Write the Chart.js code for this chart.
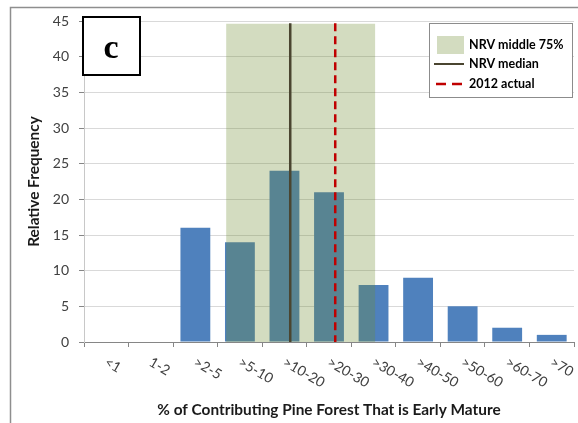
<!DOCTYPE html>
<html><head><meta charset="utf-8">
<script src="https://cdn.jsdelivr.net/npm/chart.js@4/dist/chart.umd.min.js"></script>
<style>html,body{margin:0;padding:0;background:#fff;}#wrap{width:578px;height:423px;}</style>
</head><body><div id="wrap"><canvas id="c" width="578" height="423"></canvas></div>
<script>
const categories = ['<1','1-2','>2-5','>5-10','>10-20','>20-30','>30-40','>40-50','>50-60','>60-70','>70'];
const frequencies = [0,0,16,14,24,21,8,9,5,2,1];
const bandRange = [2.69, 6.04];   // NRV middle 75% (category index units)
const bandTop = 44.6;
const medianPos = 4.13;           // NRV median
const actualPos = 5.14;           // 2012 actual
const lineTop = 44.7;
const yMax = 45, yStep = 5;
const seriesLabels = ['NRV middle 75%','NRV median','2012 actual'];
const panelLetter = 'c';
const xTitle = '% of Contributing Pine Forest That is Early Mature';
const yTitle = 'Relative Frequency';

const FONT = 'Lato, "Open Sans", sans-serif';
const BAND_COLOR = 'rgba(108,138,45,0.30)';
const MEDIAN_COLOR = '#4A4530';
const ACTUAL_COLOR = '#C00000';

const framePlugin = {
  id:'frame',
  beforeDraw(chart){
    const ctx = chart.ctx;
    ctx.save();
    ctx.fillStyle = '#fff';
    ctx.fillRect(0,0,chart.width,chart.height);
    ctx.strokeStyle = '#8E8E8E';
    ctx.lineWidth = 1.5;
    ctx.strokeRect(10.5, 7.5, 700, 600);
    ctx.restore();
  }
};

const xLabelPlugin = {
  id:'xlabels',
  afterDraw(chart){
    const ctx = chart.ctx, xs = chart.scales.x;
    ctx.save();
    ctx.font = '14px ' + FONT;
    ctx.fillStyle = '#404040';
    ctx.textAlign = 'left';
    ctx.textBaseline = 'top';
    categories.forEach((c,i)=>{
      const px = xs.getPixelForValue(i);
      ctx.save();
      ctx.translate(px + 3, xs.top + 13);
      ctx.rotate(30*Math.PI/180);
      ctx.fillText(c, 0, 0);
      ctx.restore();
    });
    ctx.restore();
  }
};

const overlayPlugin = {
  id:'overlay',
  afterDraw(chart){
    const ctx = chart.ctx, a = chart.chartArea;
    ctx.save();
    // panel letter box
    ctx.fillStyle = '#fff';
    ctx.fillRect(83, 17, 57, 58);
    ctx.strokeStyle = '#000';
    ctx.lineWidth = 2;
    ctx.strokeRect(83, 17, 57, 58);
    ctx.fillStyle = '#000';
    ctx.font = 'bold 34px "Liberation Serif", "DejaVu Serif", serif';
    ctx.textAlign = 'center';
    ctx.textBaseline = 'alphabetic';
    ctx.fillText(panelLetter, 111, 58);

    // legend
    const lx = a.right - 145, ly = a.top + 2, lw = 143, lh = 74;
    ctx.fillStyle = '#fff';
    ctx.fillRect(lx, ly, lw, lh);
    ctx.strokeStyle = '#8C8C8C';
    ctx.lineWidth = 1;
    ctx.strokeRect(lx + 0.5, ly + 0.5, lw, lh);
    const ds = chart.data.datasets;
    ctx.font = 'bold 12.5px ' + FONT;
    ctx.fillStyle = '#000';
    ctx.textAlign = 'left';
    ctx.textBaseline = 'middle';
    const tx = lx + 40;
    ctx.fillStyle = ds[1].backgroundColor;
    ctx.fillRect(lx + 8, ly + 13, 27, 18);
    ctx.fillStyle = '#000';
    ctx.fillText(ds[1].label, tx, ly + 22);
    ctx.strokeStyle = ds[2].borderColor;
    ctx.lineWidth = 2;
    ctx.beginPath(); ctx.moveTo(lx + 5, ly + 41); ctx.lineTo(lx + 35, ly + 41); ctx.stroke();
    ctx.fillText(ds[2].label, tx, ly + 41);
    ctx.strokeStyle = ds[3].borderColor;
    ctx.lineWidth = 2.5;
    ctx.setLineDash([10,6]);
    ctx.beginPath(); ctx.moveTo(lx + 7, ly + 61); ctx.lineTo(lx + 35, ly + 61); ctx.stroke();
    ctx.setLineDash([]);
    ctx.fillText(ds[3].label, tx, ly + 61);
    ctx.restore();
  }
};

new Chart(document.getElementById('c'), {
  type:'bar',
  data:{
    labels: categories,
    datasets:[
      { type:'bar', label:'Frequency', data: frequencies, backgroundColor:'#4F81BD',
        borderWidth:0, barPercentage:0.67, categoryPercentage:1, grouped:false,
        xAxisID:'x', yAxisID:'y', order:3 },
      { type:'line', label: seriesLabels[0],
        data:[{x:bandRange[0], y:bandTop},{x:bandRange[1], y:bandTop}],
        xAxisID:'xl', yAxisID:'y', fill:'origin', backgroundColor: BAND_COLOR,
        borderColor:'rgba(0,0,0,0)', borderWidth:0, pointRadius:0, order:2 },
      { type:'line', label: seriesLabels[1],
        data:[{x:medianPos, y:lineTop},{x:medianPos, y:0}],
        xAxisID:'xl', yAxisID:'y', borderColor: MEDIAN_COLOR, borderWidth:2.5,
        pointRadius:0, fill:false, order:1 },
      { type:'line', label: seriesLabels[2],
        data:[{x:actualPos, y:lineTop},{x:actualPos, y:0}],
        xAxisID:'xl', yAxisID:'y', borderColor: ACTUAL_COLOR, borderWidth:2.5,
        borderDash:[8,5], borderCapStyle:'butt', pointRadius:0, fill:false, order:0 }
    ]
  },
  options:{
    responsive:false,
    animation:false,
    layout:{ padding:{ top:21, right:4, left:0, bottom:0 } },
    plugins:{ legend:{display:false}, tooltip:{enabled:false} },
    scales:{
      x:{
        type:'category', offset:true,
        grid:{ offset:true, drawOnChartArea:false, drawTicks:true, tickLength:5, tickColor:'#868686' },
        border:{ display:true, color:'#868686' },
        ticks:{ display:false },
        title:{ display:true, text:xTitle, color:'#1a1a1a', font:{ family:FONT, size:15.4, weight:'bold' }, padding:{top:0,bottom:4} },
        afterFit(s){ s.height = 81; }
      },
      xl:{ type:'linear', display:false, offset:false, grid:{offset:false}, min:-0.5, max: categories.length - 0.5 },
      y:{
        min:0, max:yMax,
        ticks:{ stepSize:yStep, color:'#404040', font:{ family:FONT, size:14 }, padding:10 },
        grid:{ color:'#D9D9D9', tickColor:'#868686', tickLength:5 },
        border:{ display:true, color:'#C8C8C8' },
        title:{ display:true, text:yTitle, color:'#1a1a1a', font:{ family:FONT, size:15.4, weight:'bold' }, padding:{top:25,bottom:0} },
        afterFit(s){ s.width = 84; }
      }
    }
  },
  plugins:[framePlugin, xLabelPlugin, overlayPlugin]
});
</script></body></html>
